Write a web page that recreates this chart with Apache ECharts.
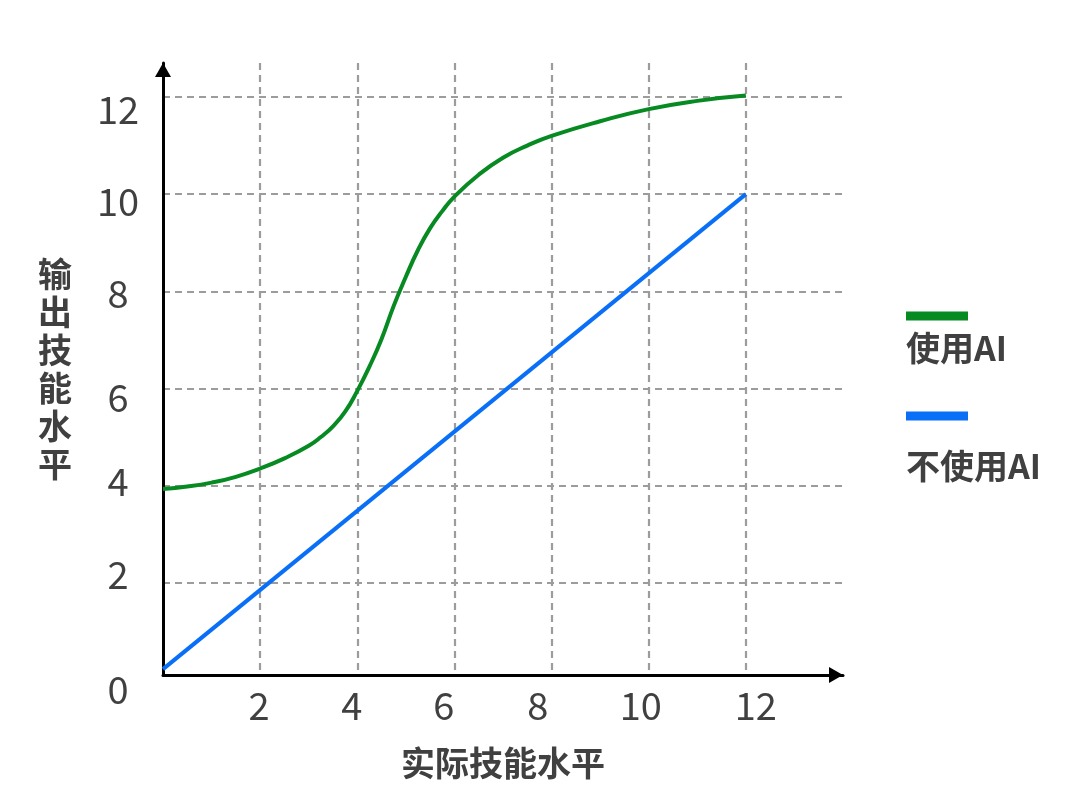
<!DOCTYPE html>
<html>
<head>
<meta charset="utf-8">
<script src="https://cdn.jsdelivr.net/npm/echarts@6.0.0/dist/echarts.min.js"></script>
<style>
  html, body { margin: 0; padding: 0; background: #ffffff; }
  #chart { width: 1080px; height: 811px; }
</style>
</head>
<body>
<div id="chart"></div>
<script>
// ---- data ----
const seriesNames = ['使用AI', '不使用AI'];
const aiX = [0, 0.5, 1, 1.5, 2, 2.5, 3, 3.25, 3.5, 3.75, 4, 4.25, 4.5, 4.75, 5, 5.25, 5.5, 5.75, 6, 6.5, 7, 7.5, 8, 9, 10, 11, 12];
const aiY = [3.93, 3.98, 4.06, 4.18, 4.35, 4.56, 4.82, 5.0, 5.22, 5.52, 5.95, 6.45, 7.02, 7.7, 8.3, 8.85, 9.3, 9.65, 9.95, 10.4, 10.75, 11.0, 11.2, 11.5, 11.75, 11.92, 12.03];
const noAiX = [0, 12];
const noAiY = [0.22, 10];
const xTickValues = [0, 2, 4, 6, 8, 10, 12];
const yTickValues = [2, 4, 6, 8, 10, 12];
const xAxisName = '实际技能水平';
const yAxisName = '输出技能水平';

// ---- styling ----
const FONT = "'Noto Sans CJK SC', 'Noto Sans', sans-serif";
const GREEN = '#078a22';
const BLUE = '#0a6ff7';
const TEXT = '#404040';
// hand-placed label nudges in the reference (pixels: dx, dy)
const xLabelNudge = {0: [-45, -16], 2: [-1, 0], 4: [-5.6, 0], 6: [-10.7, 0], 8: [-13.8, 0], 10: [-7.9, 0], 12: [9.9, 0]};
const yLabelNudge = {2: [0, -7.7], 4: [0, -3.6], 6: [0, 9], 8: [0, 2.7], 10: [0, 7.5], 12: [0, 12.5]};

function nudged(dx, dy) {
  return {
    fontSize: 38, color: TEXT, fontFamily: FONT,
    padding: [dy > 0 ? 2 * dy : 0, dx < 0 ? -2 * dx : 0, dy < 0 ? -2 * dy : 0, dx > 0 ? 2 * dx : 0]
  };
}
const xRich = {}, yRich = {};
Object.keys(xLabelNudge).forEach(k => { xRich['x' + k] = nudged(xLabelNudge[k][0], xLabelNudge[k][1]); });
Object.keys(yLabelNudge).forEach(k => { yRich['y' + k] = nudged(yLabelNudge[k][0], yLabelNudge[k][1]); });

const splitStyle = { color: '#9c9c9c', width: 2.2, type: [7, 5] };
const axisLineStyle = { color: '#000000', width: 3 };

const chart = echarts.init(document.getElementById('chart'), null, { renderer: 'canvas' });
chart.setOption({
  animation: false,
  backgroundColor: '#ffffff',
  grid: { left: 163, top: 63, width: 680, height: 612, containLabel: false },
  xAxis: {
    type: 'value', min: 0, max: 14,
    name: xAxisName, nameLocation: 'middle', nameGap: 88,
    nameTextStyle: { fontSize: 34, fontWeight: 'bold', color: TEXT, fontFamily: FONT, verticalAlign: 'middle' },
    axisLine: { show: true, onZero: false, lineStyle: axisLineStyle, symbol: ['none', 'triangle'], symbolSize: [16, 14], symbolOffset: [0, -7] },
    axisTick: { show: false, customValues: xTickValues.filter(v => v > 0) },
    splitLine: { show: true, lineStyle: splitStyle },
    axisLabel: {
      customValues: xTickValues, margin: 31, verticalAlign: 'middle',
      formatter: v => '{x' + v + '|' + v + '}', rich: xRich
    }
  },
  yAxis: {
    type: 'value', min: 0.1, max: 12.7,
    name: yAxisName.split('').join('\n'), nameLocation: 'middle', nameGap: 108, nameRotate: 0,
    nameTextStyle: { fontSize: 34, fontWeight: 'bold', color: TEXT, fontFamily: FONT, lineHeight: 38, align: 'center', verticalAlign: 'middle' },
    axisLine: { show: true, onZero: false, lineStyle: axisLineStyle, symbol: ['none', 'triangle'], symbolSize: [16, 14], symbolOffset: [0, -7] },
    axisTick: { show: false, customValues: yTickValues },
    splitLine: { show: true, lineStyle: splitStyle },
    axisLabel: {
      customValues: yTickValues, margin: 45, align: 'center', verticalAlign: 'middle',
      formatter: v => '{y' + v + '|' + v + '}', rich: yRich
    }
  },
  legend: {
    orient: 'vertical', left: 901, top: 310, padding: 0, itemGap: 45,
    icon: 'none', itemWidth: 0, itemHeight: 0,
    data: seriesNames,
    formatter: name => name === seriesNames[0] ? '{g| }\n{t1|' + name + '}' : '{b| }\n{t2|' + name + '}',
    textStyle: {
      fontFamily: FONT,
      rich: {
        g: { width: 62, height: 9, lineHeight: 9, backgroundColor: GREEN },
        b: { width: 62, height: 9, lineHeight: 9, backgroundColor: BLUE },
        t1: { fontSize: 34, fontWeight: 'bold', color: TEXT, fontFamily: FONT, lineHeight: 55 },
        t2: { fontSize: 34, fontWeight: 'bold', color: TEXT, fontFamily: FONT, lineHeight: 91 }
      }
    }
  },
  series: [
    {
      name: seriesNames[0], type: 'line', smooth: true, showSymbol: false,
      lineStyle: { color: GREEN, width: 4 }, itemStyle: { color: GREEN },
      data: aiX.map((x, i) => [x, aiY[i]])
    },
    {
      name: seriesNames[1], type: 'line', smooth: false, showSymbol: false,
      lineStyle: { color: BLUE, width: 4 }, itemStyle: { color: BLUE },
      data: noAiX.map((x, i) => [x, noAiY[i]])
    }
  ]
});
</script>
</body>
</html>
